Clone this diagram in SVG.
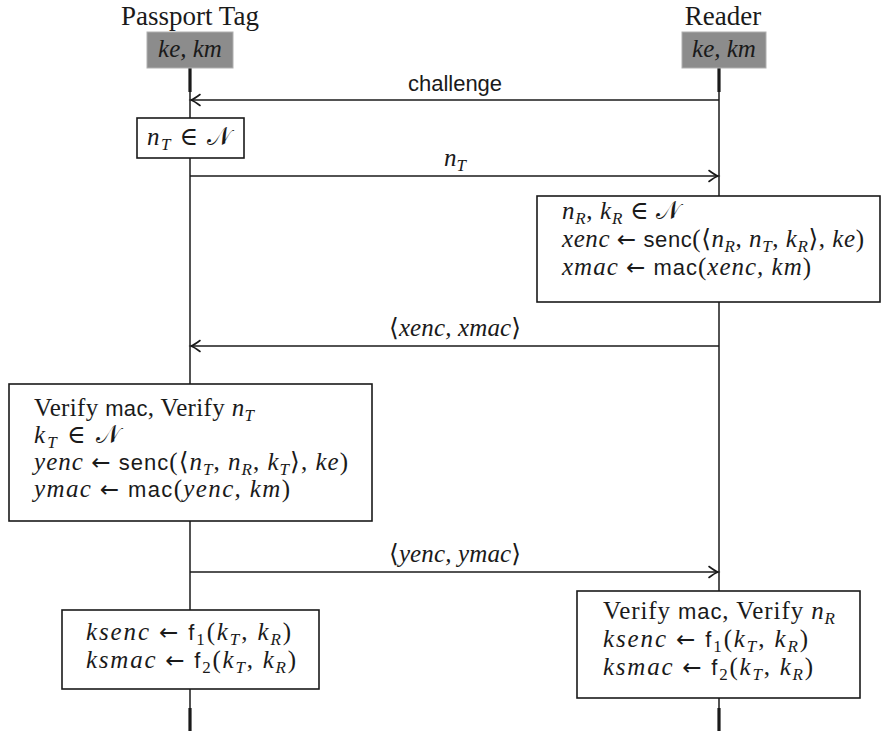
<svg xmlns="http://www.w3.org/2000/svg" width="895" height="733" viewBox="0 0 895 733">
<style>
text { font-family: "Liberation Serif", "DejaVu Serif", serif; font-size: 25px; fill: #1a1a1a; }
.title { font-size: 27px; text-anchor: middle; }
.i { font-style: italic; }
.s { font-family: "Liberation Sans", "DejaVu Sans", sans-serif; font-size: 22px; }
.ar { font-family: "DejaVu Sans", sans-serif; font-size: 23px; }
.sb { font-size: 17px; font-style: italic; }
.sn { font-size: 17px; }
.mid { text-anchor: middle; }
.box { fill: #ffffff; stroke: #1a1a1a; stroke-width: 1.6; }
.key { fill: #8c8c8c; stroke: #b0b0b0; stroke-width: 1; }
.life { stroke: #1a1a1a; stroke-width: 1.5; fill: none; }
.thick { stroke: #1a1a1a; stroke-width: 3.2; fill: none; }
.msg { stroke: #1a1a1a; stroke-width: 1.5; fill: none; marker-end: url(#tip); }
</style>
<defs>
<marker id="tip" markerUnits="userSpaceOnUse" markerWidth="16" markerHeight="14" viewBox="-12 -7 14 14" refX="0" refY="0" orient="auto">
<path d="M -9,-5.5 Q -3,-1 0,0 Q -3,1 -9,5.5" fill="none" stroke="#1a1a1a" stroke-width="1.6" stroke-linecap="round"/>
</marker>
</defs>
<rect width="895" height="733" fill="#ffffff"/>

<g id="connectors">
<line class="life" x1="190" y1="68" x2="190" y2="731"/>
<line class="thick" x1="190" y1="68" x2="190" y2="92"/>
<line class="thick" x1="190" y1="708" x2="190" y2="731"/>
<line class="life" x1="719" y1="68" x2="719" y2="731"/>
<line class="thick" x1="719" y1="68" x2="719" y2="92"/>
<line class="thick" x1="719" y1="708" x2="719" y2="731"/>

<line class="msg" x1="719" y1="100" x2="191" y2="100"/>
<text class="s mid" x="455" y="91">challenge</text>

<line class="msg" x1="190" y1="176" x2="718" y2="176"/>
<text class="mid" x="455" y="166"><tspan class="i">n</tspan><tspan class="sb" dy="5">T</tspan></text>

<line class="msg" x1="719" y1="346" x2="191" y2="346"/>
<text class="mid" x="455" y="336" textLength="132" lengthAdjust="spacing">⟨<tspan class="i">xenc, xmac</tspan>⟩</text>

<line class="msg" x1="190" y1="572" x2="718" y2="572"/>
<text class="mid" x="455" y="562" textLength="132" lengthAdjust="spacing">⟨<tspan class="i">yenc, ymac</tspan>⟩</text>
</g>

<g id="tag">
<text class="title" x="190" y="25">Passport Tag</text>
<rect class="key" x="147" y="32" width="86" height="36"/>
<text class="i mid" x="190" y="57">ke, km</text>
</g>

<g id="reader">
<text class="title" x="723" y="25">Reader</text>
<rect class="key" x="682" y="32" width="84" height="36"/>
<text class="i mid" x="724" y="57">ke, km</text>
</g>

<g id="tag-nonce">
<rect class="box" x="137" y="118" width="107" height="40"/>
<text x="147" y="145" textLength="84" lengthAdjust="spacing"><tspan class="i">n</tspan><tspan class="sb" dy="5">T</tspan><tspan dy="-5"> ∈ 𝒩</tspan></text>
</g>

<g id="reader-compute">
<rect class="box" x="537" y="196" width="343" height="106"/>
<text x="562" y="219" textLength="118" lengthAdjust="spacing"><tspan class="i">n</tspan><tspan class="sb" dy="5">R</tspan><tspan dy="-5">, </tspan><tspan class="i">k</tspan><tspan class="sb" dy="5">R</tspan><tspan dy="-5"> ∈ 𝒩</tspan></text>
<text x="562" y="247" textLength="302" lengthAdjust="spacing"><tspan class="i">xenc</tspan> <tspan class="ar">←</tspan> <tspan class="s">senc</tspan>(⟨<tspan class="i">n</tspan><tspan class="sb" dy="5">R</tspan><tspan dy="-5">, </tspan><tspan class="i">n</tspan><tspan class="sb" dy="5">T</tspan><tspan dy="-5">, </tspan><tspan class="i">k</tspan><tspan class="sb" dy="5">R</tspan><tspan dy="-5">⟩, </tspan><tspan class="i">ke</tspan>)</text>
<text x="562" y="275" textLength="249" lengthAdjust="spacing"><tspan class="i">xmac</tspan> <tspan class="ar">←</tspan> <tspan class="s">mac</tspan>(<tspan class="i">xenc, km</tspan>)</text>
</g>

<g id="tag-compute">
<rect class="box" x="9" y="384" width="363" height="137"/>
<text x="34" y="416" textLength="220" lengthAdjust="spacing">Verify <tspan class="s">mac</tspan>, Verify <tspan class="i">n</tspan><tspan class="sb" dy="5">T</tspan></text>
<text x="34" y="443" textLength="86" lengthAdjust="spacing"><tspan class="i">k</tspan><tspan class="sb" dy="5">T</tspan><tspan dy="-5"> ∈ 𝒩</tspan></text>
<text x="34" y="470" textLength="314" lengthAdjust="spacing"><tspan class="i">yenc</tspan> <tspan class="ar">←</tspan> <tspan class="s">senc</tspan>(⟨<tspan class="i">n</tspan><tspan class="sb" dy="5">T</tspan><tspan dy="-5">, </tspan><tspan class="i">n</tspan><tspan class="sb" dy="5">R</tspan><tspan dy="-5">, </tspan><tspan class="i">k</tspan><tspan class="sb" dy="5">T</tspan><tspan dy="-5">⟩, </tspan><tspan class="i">ke</tspan>)</text>
<text x="34" y="497" textLength="256" lengthAdjust="spacing"><tspan class="i">ymac</tspan> <tspan class="ar">←</tspan> <tspan class="s">mac</tspan>(<tspan class="i">yenc, km</tspan>)</text>
</g>

<g id="tag-keys">
<rect class="box" x="62" y="610" width="257" height="79"/>
<text x="86" y="640" textLength="205" lengthAdjust="spacing"><tspan class="i">ksenc</tspan> <tspan class="ar">←</tspan> <tspan class="s">f</tspan><tspan class="sn" dy="5">1</tspan><tspan dy="-5">(</tspan><tspan class="i">k</tspan><tspan class="sb" dy="5">T</tspan><tspan dy="-5">, </tspan><tspan class="i">k</tspan><tspan class="sb" dy="5">R</tspan><tspan dy="-5">)</tspan></text>
<text x="86" y="668" textLength="210" lengthAdjust="spacing"><tspan class="i">ksmac</tspan> <tspan class="ar">←</tspan> <tspan class="s">f</tspan><tspan class="sn" dy="5">2</tspan><tspan dy="-5">(</tspan><tspan class="i">k</tspan><tspan class="sb" dy="5">T</tspan><tspan dy="-5">, </tspan><tspan class="i">k</tspan><tspan class="sb" dy="5">R</tspan><tspan dy="-5">)</tspan></text>
</g>

<g id="reader-keys">
<rect class="box" x="577" y="591" width="283" height="107"/>
<text x="603" y="619" textLength="232" lengthAdjust="spacing">Verify <tspan class="s">mac</tspan>, Verify <tspan class="i">n</tspan><tspan class="sb" dy="5">R</tspan></text>
<text x="603" y="647" textLength="205" lengthAdjust="spacing"><tspan class="i">ksenc</tspan> <tspan class="ar">←</tspan> <tspan class="s">f</tspan><tspan class="sn" dy="5">1</tspan><tspan dy="-5">(</tspan><tspan class="i">k</tspan><tspan class="sb" dy="5">T</tspan><tspan dy="-5">, </tspan><tspan class="i">k</tspan><tspan class="sb" dy="5">R</tspan><tspan dy="-5">)</tspan></text>
<text x="603" y="675" textLength="210" lengthAdjust="spacing"><tspan class="i">ksmac</tspan> <tspan class="ar">←</tspan> <tspan class="s">f</tspan><tspan class="sn" dy="5">2</tspan><tspan dy="-5">(</tspan><tspan class="i">k</tspan><tspan class="sb" dy="5">T</tspan><tspan dy="-5">, </tspan><tspan class="i">k</tspan><tspan class="sb" dy="5">R</tspan><tspan dy="-5">)</tspan></text>
</g>
</svg>
